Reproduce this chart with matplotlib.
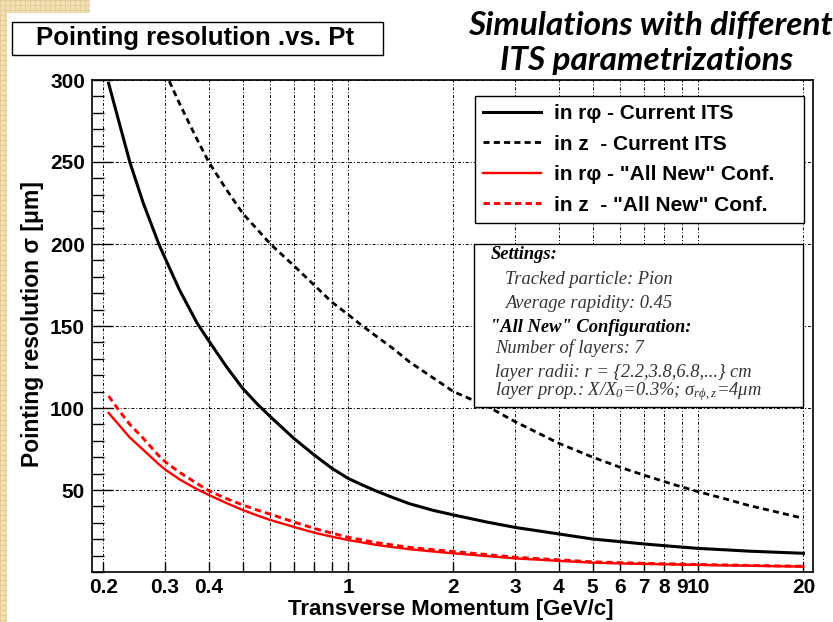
#!/usr/bin/env python3
import numpy as np
import matplotlib
matplotlib.use('Agg')
import matplotlib.pyplot as plt
import matplotlib.ticker as mticker
from matplotlib.patches import Rectangle

# transverse momentum points (GeV/c)
pt = [0.207, 0.22, 0.238, 0.26, 0.288, 0.3, 0.33, 0.37, 0.4, 0.45, 0.5, 0.55,
      0.6, 0.7, 0.8, 0.9, 1.0, 1.1, 1.2, 1.35, 1.5, 1.75, 2.0, 2.5, 3.0, 4.0,
      5.0, 6.0, 7.0, 8.5, 10.0, 12.0, 14.0, 17.0, 20.0]

# pointing resolution (um)
cur_rphi = [298, 277, 250, 225, 200, 191.5, 172, 152, 141, 125, 112, 102.5,
            94.7, 81.5, 71.4, 63.2, 57.1, 53, 49.5, 45.2, 41.6, 37.6, 34.8, 30.4,
            27.2, 23.2, 20.1, 18.5, 17.1, 15.6, 14.4, 13.5, 12.7, 12.0, 11.4]
cur_z = [np.nan, np.nan, np.nan, np.nan, np.nan, 305, 285.7, 264, 250, 233,
         218.7, 209, 200, 186.8, 175, 164.5, 157, 150, 144, 136, 128, 118.4,
         110, 101, 91.7, 78.5, 70, 63.8, 59.1, 53.4, 49, 44.5, 40.5, 36.3, 32.7]
new_rphi = [97, 90.5, 82, 74.5, 65.7, 62.6, 56.5, 50.5, 47, 42, 37.8, 34.5,
            31.7, 27.5, 24, 21.5, 19.5, 18, 16.6, 15.1, 13.9, 12.5, 11.4, 9.7,
            8.3, 6.8, 5.7, 5.2, 4.9, 4.6, 4.3, 4.0, 3.8, 3.5, 3.3]
new_z = [107.3, 99.5, 90, 81.5, 70.9, 67.3, 60.8, 54, 49.6, 44.7, 40.9, 37.8,
         35.2, 30.5, 26.6, 23.7, 21.2, 19.5, 18, 16.4, 15, 13.6, 12.5, 10.6,
         9, 7.4, 6.2, 5.7, 5.3, 4.9, 4.6, 4.3, 4.0, 3.7, 3.5]

xgrid = [0.2, 0.3, 0.4, 0.5, 0.6, 0.7, 0.8, 0.9, 1, 2, 3, 4, 5, 6, 7, 8, 9, 10, 20]
xlabels = ['0.2', '0.3', '0.4', '', '', '', '', '', '1', '2', '3', '4', '5',
           '6', '7', '8', '9', '10', '20']
yticks = [50, 100, 150, 200, 250, 300]

labels = ['in r\u03c6 - Current ITS', 'in z  - Current ITS',
          'in r\u03c6 - "All New" Conf.', 'in z  - "All New" Conf.']

settings = [
    ('Settings:', 'bold', 491),
    ('Tracked particle: Pion', 'normal', 505),
    ('Average rapidity: 0.45', 'normal', 505),
    ('"All New" Configuration:', 'bold', 490),
    ('Number of layers: 7', 'normal', 495),
    ('layer radii: r = {2.2,3.8,6.8,...} cm', 'normal', 495),
    (r'layer prop.: X/X$_{0}$=0.3%; $\sigma_{r\phi,z}$=4$\mu$m', 'normal', 495),
]
settings_base = [259, 284, 308, 332, 353, 377, 395]

plt.rcParams['font.family'] = 'Liberation Sans'
plt.rcParams['mathtext.fontset'] = 'custom'
plt.rcParams['mathtext.it'] = 'Liberation Serif:italic'
plt.rcParams['mathtext.rm'] = 'Liberation Serif:italic'

W, H = 833, 622
fig = plt.figure(figsize=(W / 100, H / 100), dpi=100)

# beige slide border texture on the left
tex = np.ones((H, W, 4))
tex[..., 3] = 0
yy, xx = np.mgrid[0:H, 0:W]
edge = (xx < 7) | ((yy < 13) & (xx < 90))
base = np.array([0.95, 0.88, 0.70])
dark = np.array([0.89, 0.80, 0.60])
tex[edge, :3] = base
lines = edge & ((xx % 5 == 0) | (yy % 5 == 0))
tex[lines, :3] = dark
tex[edge, 3] = 1
fig.figimage(tex, xo=0, yo=0, origin='upper', zorder=0)

def fx(px):
    return px / W

def fy(py):
    return 1 - py / H

ax = fig.add_axes([fx(92), fy(572), fx(813) - fx(92), fy(80) - fy(572)])
ax.set_xscale('log')
ax.set_xlim(0.1856, 21.3)
ax.set_ylim(0, 300)

ax.plot(pt, cur_rphi, color='black', lw=2.2, label=labels[0])
l2, = ax.plot(pt, cur_z, color='black', lw=2.0, label=labels[1])
l2.set_dashes((2.2, 1.5))
ax.plot(pt, new_rphi, color='#ff0000', lw=1.7, label=labels[2])
l4, = ax.plot(pt, new_z, color='#ff0000', lw=2.1, label=labels[3])
l4.set_dashes((2.2, 1.4))

ax.set_xticks(xgrid)
ax.set_xticklabels(xlabels)
ax.xaxis.set_minor_locator(mticker.NullLocator())
ax.set_yticks(yticks)
ax.yaxis.set_minor_locator(mticker.MultipleLocator(10))
ax.tick_params(axis='both', which='both', direction='in', top=False, right=False,
               labelsize=15, width=1, color='black')
ax.tick_params(axis='x', which='major', length=7, pad=4)
ax.tick_params(axis='y', which='major', length=15, pad=5)
ax.tick_params(axis='y', which='minor', length=8.5)
for t in ax.get_xticklabels() + ax.get_yticklabels():
    t.set_fontweight('bold')
ax.grid(True, which='major', color='black', lw=0.7, linestyle=(0, (3, 2, 1, 2)))
for s in ax.spines.values():
    s.set_linewidth(1.2)

leg = ax.legend(loc='upper left', bbox_to_anchor=(0.5306, 0.7154, 0.4569, 0.2521),
                mode='expand', borderaxespad=0, fancybox=False, framealpha=1,
                edgecolor='black', prop={'weight': 'bold', 'size': 15},
                handlelength=2.8, handletextpad=0.6, labelspacing=0.55,
                borderpad=0.4)
leg.get_frame().set_linewidth(1.0)

# settings box
box = Rectangle((fx(474), fy(407)), fx(803) - fx(474), fy(244) - fy(407),
                transform=fig.transFigure, fill=True, facecolor='white',
                edgecolor='black', lw=1.0, zorder=5)
fig.patches.append(box)
for (txt, wt, x0), yb in zip(settings, settings_base):
    fig.text(fx(x0), fy(yb), txt, family='Liberation Serif', style='italic',
             weight=wt, size=13.3, color='black' if wt == 'bold' else '#333333',
             va='baseline', ha='left', zorder=6)

# title box
fig.patches.append(Rectangle((fx(12), fy(55)), fx(383) - fx(12), fy(22) - fy(55),
                             transform=fig.transFigure, fill=False,
                             edgecolor='black', lw=1.0))
fig.text(fx(195), fy(45), 'Pointing resolution .vs. Pt', ha='center',
         va='baseline', size=18.5, weight='bold')

fig.text(fx(650), fy(35), 'Simulations with different', family='Lato',
         style='italic', weight='bold', size=24, ha='center', va='baseline')
fig.text(fx(647), fy(70), 'ITS parametrizations', family='Lato',
         style='italic', weight='bold', size=24, ha='center', va='baseline')

fig.text(fx(451), fy(615), 'Transverse Momentum [GeV/c]', ha='center',
         va='baseline', size=16, weight='bold')
fig.text(fx(33), fy(324), 'Pointing resolution \u03c3 [\u03bcm]', ha='center',
         va='center', rotation=90, size=16.5, weight='bold')

fig.savefig('out.png', dpi=100)
